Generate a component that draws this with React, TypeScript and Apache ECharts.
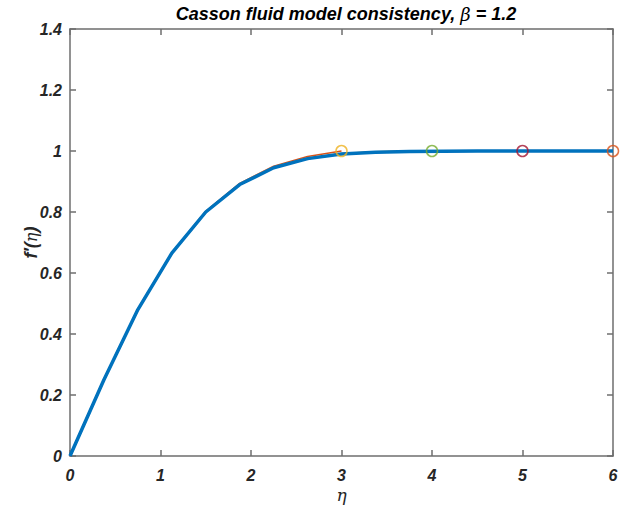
import React, { useEffect, useRef } from "react";
import * as echarts from "echarts";

const xTicks = [0, 1, 2, 3, 4, 5, 6];
const yTicks = [0, 0.2, 0.4, 0.6, 0.8, 1, 1.2, 1.4];

// eta_inf = 3
const eta3 = [0, 0.375, 0.75, 1.125, 1.5, 1.875, 2.25, 2.625, 3.0];
const f3 = [0, 0.25, 0.48, 0.666, 0.802, 0.894, 0.95, 0.982, 1.0];

// eta_inf = 4
const eta4 = [0, 0.375, 0.75, 1.125, 1.5, 1.875, 2.25, 2.625, 3.0, 3.375, 3.75, 4.0];
const f4 = [0, 0.25, 0.48, 0.665, 0.8, 0.891, 0.946, 0.976, 0.991, 0.997, 0.999, 1.0];

// eta_inf = 5
const eta5 = [0, 0.375, 0.75, 1.125, 1.5, 1.875, 2.25, 2.625, 3.0, 3.375, 3.75, 4.125, 4.5, 5.0];
const f5 = [0, 0.25, 0.48, 0.665, 0.8, 0.89, 0.945, 0.975, 0.99, 0.996, 0.998, 0.999, 1.0, 1.0];

// eta_inf = 6
const eta6 = [0, 0.375, 0.75, 1.125, 1.5, 1.875, 2.25, 2.625, 3.0, 3.375, 3.75, 4.125, 4.5, 4.875, 5.25, 5.625, 6.0];
const f6 = [0, 0.25, 0.48, 0.665, 0.8, 0.89, 0.945, 0.975, 0.99, 0.996, 0.998, 0.999, 1.0, 1.0, 1.0, 1.0, 1.0];

const endEta = [3, 4, 5, 6];
const endF = [1, 1, 1, 1];
const endColors = ["#EDB120", "#77AC30", "#A2142F", "#D95319"];

const pair = (xs: number[], ys: number[]) => xs.map((x, i) => [x, ys[i]]);

const tickFont = {
  fontFamily: "Liberation Sans, Arial, sans-serif",
  fontWeight: "bold" as const,
  fontStyle: "italic" as const,
  fontSize: 16,
  color: "#262626",
};
const axisColor = "#6e6e6e";

export default function App() {
  const ref = useRef<HTMLDivElement>(null);
  useEffect(() => {
    if (!ref.current) return;
    const chart = echarts.init(ref.current, undefined, { renderer: "svg" });
    const commonX = {
      type: "value" as const,
      min: 0,
      max: 6,
      interval: 1,
      splitLine: { show: false },
      axisLine: { show: true, onZero: false, lineStyle: { color: axisColor, width: 1.5 } },
      axisTick: { show: true, inside: true, length: 6, lineStyle: { color: axisColor, width: 1.5 } },
    };
    const commonY = {
      type: "value" as const,
      min: 0,
      max: 1.4,
      interval: 0.2,
      splitLine: { show: false },
      axisLine: { show: true, onZero: false, lineStyle: { color: axisColor, width: 1.5 } },
      axisTick: { show: true, inside: true, length: 6, lineStyle: { color: axisColor, width: 1.5 } },
    };
    chart.setOption({
      animation: false,
      backgroundColor: "#ffffff",
      title: {
        text: "Casson fluid model consistency, {b|β} = 1.2",
        left: 341,
        textAlign: "center",
        top: 0,
        textStyle: {
          fontFamily: "Liberation Sans, Arial, sans-serif",
          fontWeight: "bold",
          fontStyle: "italic",
          fontSize: 18,
          color: "#000000",
          rich: {
            b: {
              fontFamily: "DejaVu Serif, serif",
              fontStyle: "italic",
              fontWeight: "normal",
              fontSize: 18,
              color: "#000000",
            },
          },
        },
      },
      grid: { left: 70, right: 12, top: 29, bottom: 58 },
      xAxis: [
        {
          ...commonX,
          position: "bottom",
          name: "η",
          nameLocation: "middle",
          nameGap: 30,
          nameMoveOverlap: false,
          nameTextStyle: {
            fontFamily: "DejaVu Serif, serif",
            fontStyle: "italic",
            fontSize: 17,
            color: "#262626",
          },
          axisLabel: {
            ...tickFont,
            margin: 11,
            formatter: (v: number) => (xTicks.includes(v) ? String(v) : ""),
          },
        },
        {
          ...commonX,
          position: "top",
          axisLabel: { show: false },
        },
      ],
      yAxis: [
        {
          ...commonY,
          position: "left",
          name: "{a|f′(}{b|η}{a|)}",
          nameLocation: "middle",
          nameGap: 30,
          nameMoveOverlap: false,
          nameRotate: 90,
          nameTextStyle: {
            rich: {
              a: {
                fontFamily: "Liberation Sans, Arial, sans-serif",
                fontWeight: "bold",
                fontStyle: "italic",
                fontSize: 18,
                color: "#262626",
              },
              b: {
                fontFamily: "DejaVu Serif, serif",
                fontStyle: "italic",
                fontSize: 16,
                color: "#262626",
              },
            },
          },
          axisLabel: {
            ...tickFont,
            margin: 8,
            formatter: (v: number) => {
              const t = yTicks.find((y) => Math.abs(y - v) < 1e-9);
              return t === undefined ? "" : String(Math.round(t * 10) / 10);
            },
          },
        },
        {
          ...commonY,
          position: "right",
          axisLabel: { show: false },
        },
      ],
      series: [
        {
          type: "line",
          data: pair(eta3, f3),
          showSymbol: false,
          lineStyle: { color: "#D95319", width: 1.5 },
          z: 2,
        },
        {
          type: "line",
          data: pair(eta4, f4),
          showSymbol: false,
          lineStyle: { color: "#EDB120", width: 2 },
          z: 2,
        },
        {
          type: "line",
          data: pair(eta5, f5),
          showSymbol: false,
          lineStyle: { color: "#7E2F8E", width: 2 },
          z: 2,
        },
        {
          type: "line",
          data: pair(eta6, f6),
          showSymbol: false,
          lineStyle: { color: "#0072BD", width: 3.5 },
          z: 3,
        },
        {
          type: "scatter",
          symbol: "circle",
          symbolSize: 11,
          z: 4,
          data: endEta.map((x, i) => ({
            value: [x, endF[i]],
            itemStyle: { color: "rgba(0,0,0,0)", borderColor: endColors[i], borderWidth: 1.5 },
          })),
        },
      ],
    });
    return () => chart.dispose();
  }, []);
  return (
    <div
      ref={ref}
      style={{ position: "fixed", left: 0, top: 0, width: 625, height: 514 }}
    />
  );
}
